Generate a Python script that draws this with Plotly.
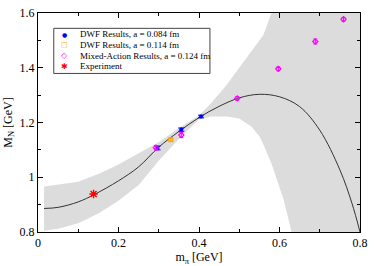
import plotly.graph_objects as go

# Fit curve
curve_x = [0.015, 0.05, 0.1, 0.14, 0.2, 0.25, 0.3, 0.35, 0.4, 0.45, 0.5, 0.55, 0.6, 0.65, 0.7, 0.75, 0.78, 0.8]
curve_y = [0.886, 0.890, 0.910, 0.937, 0.987, 1.038, 1.110, 1.167, 1.218, 1.259, 1.290, 1.303, 1.294, 1.258, 1.172, 1.027, 0.905, 0.80]

# Error band (values beyond the axis range are clipped)
band_x = [0.015, 0.05, 0.1, 0.15, 0.2, 0.25, 0.3, 0.35, 0.4, 0.43, 0.47, 0.5, 0.53, 0.55, 0.56, 0.58, 0.59, 0.61, 0.63, 0.65, 0.8]
band_upper = [0.966, 0.973, 0.984, 1.012, 1.047, 1.088, 1.128, 1.180, 1.226, 1.270, 1.340, 1.400, 1.460, 1.500, 1.520, 1.600, 1.620, 1.660, 1.700, 1.740, 2.000]
band_lower = [0.805, 0.812, 0.832, 0.868, 0.914, 0.972, 1.060, 1.140, 1.212, 1.222, 1.222, 1.215, 1.185, 1.150, 1.120, 1.050, 1.010, 0.920, 0.800, 0.700, 0.500]

# Data points
dwf084_x = [0.297, 0.356, 0.405]
dwf084_y = [1.107, 1.174, 1.222]
dwf084_err = [0.007, 0.006, 0.005]

dwf114_x = [0.330]
dwf114_y = [1.137]
dwf114_err = [0.004]

mixed_x = [0.293, 0.356, 0.495, 0.597, 0.689, 0.759]
mixed_y = [1.108, 1.154, 1.288, 1.396, 1.496, 1.577]
mixed_err = [0.008, 0.009, 0.006, 0.007, 0.009, 0.007]

exp_x = [0.138]
exp_y = [0.939]

legend_names = ["DWF Results, a = 0.084 fm", "DWF Results, a = 0.114 fm",
                "Mixed-Action Results, a = 0.124 fm", "Experiment"]
legend_symbols = ["●", "□", "◇", "✱"]
legend_colors = ["#0000ff", "#ffa500", "#ff00ff", "#ff0000"]
legend_symbol_sizes = [6, 7, 8, 8]

SERIF = "Liberation Serif"

fig = go.Figure()

fig.add_trace(go.Scatter(
    x=band_x + band_x[::-1], y=band_upper + band_lower[::-1],
    fill="toself", fillcolor="#dcdcdc", line=dict(width=0), mode="lines",
    showlegend=False, hoverinfo="skip"))

fig.add_trace(go.Scatter(
    x=curve_x, y=curve_y, mode="lines", line=dict(color="#333333", width=1, shape="spline"),
    showlegend=False))

fig.add_trace(go.Scatter(
    x=dwf084_x, y=dwf084_y, mode="markers", name=legend_names[0], showlegend=False,
    marker=dict(symbol="circle", size=4, color=legend_colors[0]),
    error_y=dict(type="data", array=dwf084_err, color=legend_colors[0], thickness=1, width=3)))

fig.add_trace(go.Scatter(
    x=dwf114_x, y=dwf114_y, mode="markers", name=legend_names[1], showlegend=False,
    marker=dict(symbol="square-open", size=4, color=legend_colors[1], line=dict(width=1.2)),
    error_y=dict(type="data", array=dwf114_err, color=legend_colors[1], thickness=1, width=2)))

fig.add_trace(go.Scatter(
    x=mixed_x, y=mixed_y, mode="markers", name=legend_names[2], showlegend=False,
    marker=dict(symbol="diamond-open", size=4, color=legend_colors[2], line=dict(width=1.2)),
    error_y=dict(type="data", array=mixed_err, color=legend_colors[2], thickness=1, width=2)))

fig.add_trace(go.Scatter(
    x=exp_x, y=exp_y, mode="markers", name=legend_names[3], showlegend=False,
    marker=dict(symbol="asterisk-open", size=7, color=legend_colors[3],
                line=dict(width=1.4, color=legend_colors[3]))))

axis_common = dict(
    showline=True, linecolor="black", linewidth=1, mirror="allticks",
    ticks="inside", ticklen=5, tickcolor="black", tickwidth=1,
    showgrid=False, zeroline=False,
    tickfont=dict(family=SERIF, size=12, color="black"),
)

# Hand-drawn legend box (paper coordinates of the plotting area)
leg_x0, leg_x1, leg_y0, leg_y1 = 0.049, 0.534, 0.724, 0.930
row_y = [0.904, 0.853, 0.804, 0.756]
sym_x, text_x = 0.083, 0.123

shapes = [dict(type="rect", xref="paper", yref="paper", x0=leg_x0, x1=leg_x1, y0=leg_y0, y1=leg_y1,
               line=dict(color="#444444", width=1), fillcolor="white", layer="above")]
annotations = []
for name, sym, col, ss, ry in zip(legend_names, legend_symbols, legend_colors, legend_symbol_sizes, row_y):
    annotations.append(dict(xref="paper", yref="paper", x=sym_x, y=ry, text=sym, showarrow=False,
                            xanchor="center", yanchor="middle",
                            font=dict(family="DejaVu Sans", size=ss, color=col)))
    annotations.append(dict(xref="paper", yref="paper", x=text_x, y=ry, text=name, showarrow=False,
                            xanchor="left", yanchor="middle",
                            font=dict(family=SERIF, size=9, color="black")))

fig.update_layout(
    width=374, height=266,
    margin=dict(l=38, r=10, t=6, b=32),
    paper_bgcolor="white", plot_bgcolor="white",
    font=dict(family=SERIF, color="black"),
    showlegend=False,
    xaxis=dict(range=[0, 0.8], dtick=0.2, tick0=0,
               minor=dict(dtick=0.1, ticklen=3, ticks="inside", tickcolor="black", showgrid=False),
               title=dict(text="m<sub>π</sub> [GeV]", font=dict(family=SERIF, size=12), standoff=1),
               **axis_common),
    yaxis=dict(range=[0.8, 1.6], dtick=0.2, tick0=0.8,
               minor=dict(dtick=0.1, ticklen=3, ticks="inside", tickcolor="black", showgrid=False),
               title=dict(text="M<sub>N</sub> [GeV]", font=dict(family=SERIF, size=12), standoff=4),
               **axis_common),
    shapes=shapes,
    annotations=annotations,
)

fig.write_html("out.html", config={"displayModeBar": False},
               post_script="document.body.style.margin='0px';")
